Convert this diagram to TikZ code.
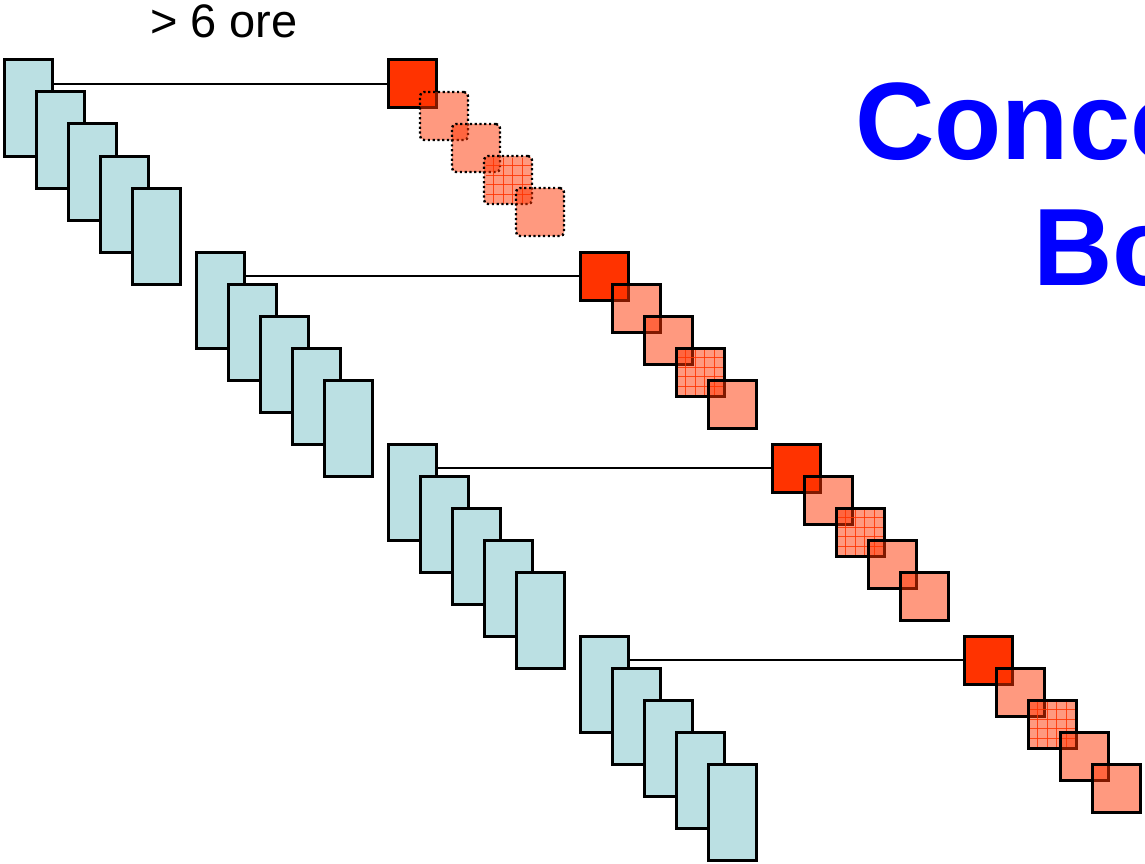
\documentclass[tikz,border=0pt]{standalone}
\usepackage{fontspec}
\setmainfont{Liberation Sans}
\usetikzlibrary{calc}
\definecolor{boxblue}{RGB}{187,224,227}
\definecolor{sqred}{RGB}{255,51,0}
\definecolor{titleblue}{RGB}{0,0,255}
\begin{document}
\begin{tikzpicture}[x=1pt,y=-1pt,
  bluebox/.style={draw=black, line width=3pt, fill=boxblue, minimum width=48pt, minimum height=96pt, inner sep=0pt, outer sep=0pt},
  redsq/.style={draw=black, line width=3pt, fill=sqred, minimum width=48pt, minimum height=48pt, inner sep=0pt, outer sep=0pt},
  pinksq/.style={draw=black, line width=3pt, fill=sqred, fill opacity=0.5, minimum width=48pt, minimum height=48pt, inner sep=0pt, outer sep=0pt},
  dotsq/.style={pinksq, line width=2.4pt, dash pattern=on 2.2pt off 2.6pt, rounded corners=4pt},
  gridline/.style={draw=sqred, line width=1pt, opacity=0.85},
  link/.style={draw=black, line width=2.4pt},
  title/.style={text=titleblue, font=\fontsize{110}{120}\selectfont\bfseries, inner sep=0pt, anchor=base west},
  note/.style={text=black, font=\fontsize{47}{54}\selectfont, inner sep=0pt, anchor=base west}]
\useasboundingbox (0,0) rectangle (1145,864);
\clip (0,0) rectangle (1145,864);
\node[note] (hours) at (150,38) {> 6 ore};
\foreach \g/\gi/\ps in {0/3/dotsq,1/3/pinksq,2/2/pinksq,3/2/pinksq}{
  \foreach \k in {0,...,4}{
    \node[bluebox] (b\g-\k) at ({28+192*\g+32*\k},{108+192*\g+32*\k}) {};
  }
  \node[redsq] (r\g) at ({412+192*\g},{84+192*\g}) {};
  \draw[link] (b\g-0.east |- r\g.west) -- (r\g.west);
  \foreach \k in {1,...,4}{
    \node[\ps] (p\g-\k) at ({412+192*\g+32*\k},{84+192*\g+32*\k}) {};
    \ifnum\k=\gi
      \foreach \i in {1,...,4}{
        \draw[gridline] ($(p\g-\k.north west)+(9.6*\i,1.5)$) -- ($(p\g-\k.south west)+(9.6*\i,-1.5)$);
        \draw[gridline] ($(p\g-\k.north west)+(1.5,9.6*\i)$) -- ($(p\g-\k.north east)+(-1.5,9.6*\i)$);
      }
    \fi
  }
}
\node[title] (t1) at (855,159) {Conco};
\node[title] (t2) at (1033,285) {Bo};
\end{tikzpicture}
\end{document}
